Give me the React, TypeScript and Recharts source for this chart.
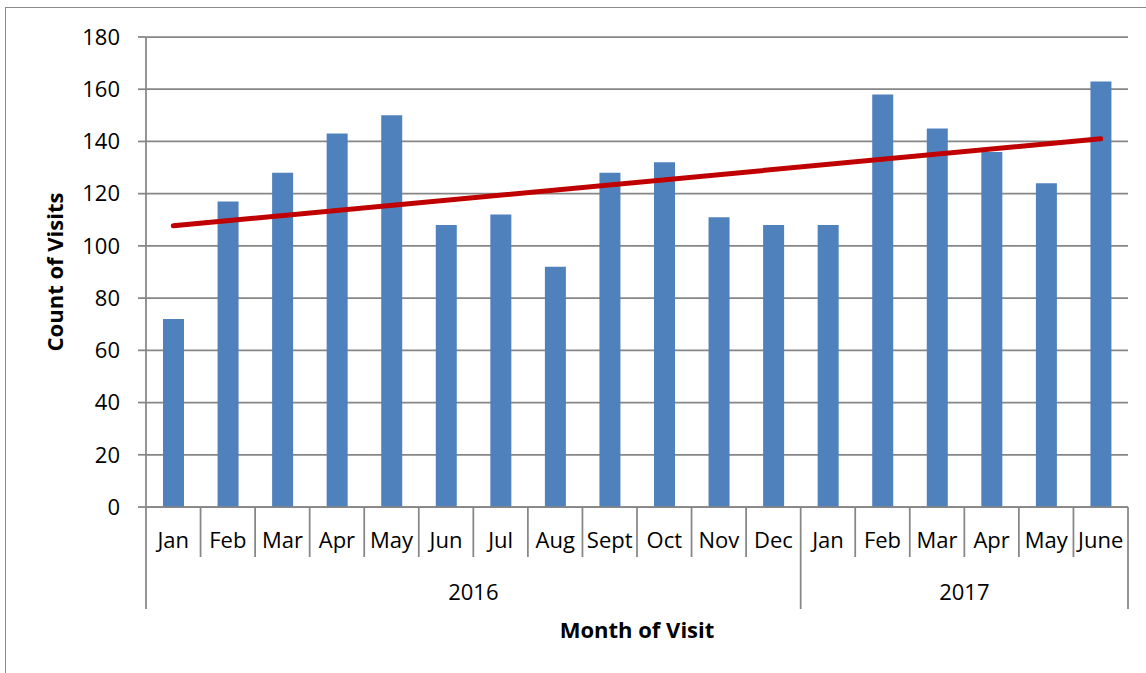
import React from "react";
import {
  ComposedChart,
  Bar,
  Line,
  XAxis,
  YAxis,
  CartesianGrid,
  Customized,
} from "recharts";

// ---- data ----
const months = [
  "Jan", "Feb", "Mar", "Apr", "May", "Jun", "Jul", "Aug", "Sept", "Oct", "Nov", "Dec",
  "Jan", "Feb", "Mar", "Apr", "May", "June",
];
const visits = [72, 117, 128, 143, 150, 108, 112, 92, 128, 132, 111, 108, 108, 158, 145, 136, 124, 163];
const years = ["2016", "2017"];
const yearMonthCounts = [12, 6];
const trendStartValue = 107.7;
const trendEndValue = 141;
const yTicks = [0, 20, 40, 60, 80, 100, 120, 140, 160, 180];

// ---- layout ----
const W = 1146;
const H = 673;
const PLOT_LEFT = 146;
const PLOT_RIGHT = 1128;
const BAND = (PLOT_RIGHT - PLOT_LEFT) / months.length;
const LAST = months.length - 1;
const AXIS_COLOR = "#868686";
const FONT = "'Open Sans', 'DejaVu Sans', sans-serif";

const yearStarts: number[] = [];
{
  let acc = 0;
  for (const c of yearMonthCounts) {
    yearStarts.push(acc);
    acc += c;
  }
}

const data = months.map((m, i) => ({
  key: i,
  month: m,
  visits: visits[i],
  trend: i === 0 ? trendStartValue : i === LAST ? trendEndValue : null,
}));

const MonthTick = (props: any) => {
  const { x, y, payload } = props;
  const i = payload.value as number;
  return (
    <g>
      <line x1={x - BAND / 2} x2={x - BAND / 2} y1={y} y2={y + 50} stroke={AXIS_COLOR} strokeWidth={1.75} />
      {i === LAST && (
        <line x1={x + BAND / 2} x2={x + BAND / 2} y1={y} y2={y + 50} stroke={AXIS_COLOR} strokeWidth={1.75} />
      )}
      <text x={x} y={y + 41} textAnchor="middle" fill="#000" fontSize={22} fontFamily={FONT}>
        {months[i]}
      </text>
    </g>
  );
};

const YearTick = (props: any) => {
  const { x, y, payload } = props;
  const i = payload.value as number;
  const g = yearStarts.indexOf(i);
  return (
    <g>
      {g >= 0 && (
        <>
          <line x1={x - BAND / 2} x2={x - BAND / 2} y1={y} y2={y + 52} stroke={AXIS_COLOR} strokeWidth={1.75} />
          <text
            x={x - BAND / 2 + (yearMonthCounts[g] * BAND) / 2}
            y={y + 43}
            textAnchor="middle"
            fill="#000"
            fontSize={22}
            fontFamily={FONT}
          >
            {years[g]}
          </text>
        </>
      )}
      {i === LAST && (
        <line x1={x + BAND / 2} x2={x + BAND / 2} y1={y} y2={y + 52} stroke={AXIS_COLOR} strokeWidth={1.75} />
      )}
    </g>
  );
};

const Titles = () => (
  <g>
    <text
      x={63}
      y={272}
      transform="rotate(-90, 63, 272)"
      textAnchor="middle"
      fontWeight="bold"
      fontSize={22}
      fontFamily={FONT}
      fill="#000"
    >
      Count of Visits
    </text>
    <text x={637} y={638} textAnchor="middle" fontWeight="bold" fontSize={22} fontFamily={FONT} fill="#000">
      Month of Visit
    </text>
  </g>
);

export default function App() {
  return (
    <div
      style={{
        position: "fixed",
        left: 0,
        top: 0,
        width: W,
        height: H,
        overflow: "hidden",
        background: "#fff",
      }}
    >
      <div
        style={{
          position: "absolute",
          left: 5,
          top: 7,
          width: W + 20,
          height: H + 20,
          border: "1.5px solid #8a8a8a",
          boxSizing: "border-box",
        }}
      />
      <div style={{ position: "absolute", left: 0, top: 0 }}>
        <ComposedChart
          width={W}
          height={H}
          data={data}
          margin={{ top: 37, right: W - PLOT_RIGHT, bottom: 64, left: 0 }}
          barCategoryGap={0}
        >
          <CartesianGrid horizontal vertical={false} stroke={AXIS_COLOR} strokeWidth={1.75} />
          <XAxis
            xAxisId="m"
            dataKey="key"
            type="category"
            interval={0}
            height={50}
            tickSize={0}
            tickMargin={0}
            tickLine={false}
            axisLine={{ stroke: AXIS_COLOR, strokeWidth: 1.75 }}
            tick={<MonthTick />}
          />
          <XAxis
            xAxisId="y"
            dataKey="key"
            type="category"
            interval={0}
            height={52}
            tickSize={0}
            tickMargin={0}
            tickLine={false}
            axisLine={false}
            tick={<YearTick />}
          />
          <YAxis
            width={PLOT_LEFT}
            domain={[0, 180]}
            ticks={yTicks}
            interval={0}
            tickSize={8}
            tickMargin={18}
            tickLine={{ stroke: AXIS_COLOR, strokeWidth: 1.75 }}
            axisLine={{ stroke: AXIS_COLOR, strokeWidth: 1.75 }}
            tick={{ fill: "#000", fontSize: 22, fontFamily: FONT }}
          />
          <Bar
            xAxisId="m"
            dataKey="visits"
            fill="#4F81BD"
            barSize={21}
            isAnimationActive={false}
          />
          <Line
            xAxisId="m"
            dataKey="trend"
            type="linear"
            stroke="#C00000"
            strokeWidth={5}
            strokeLinecap="round"
            dot={false}
            activeDot={false}
            connectNulls
            isAnimationActive={false}
          />
          <Customized component={<Titles />} />
        </ComposedChart>
      </div>
    </div>
  );
}
